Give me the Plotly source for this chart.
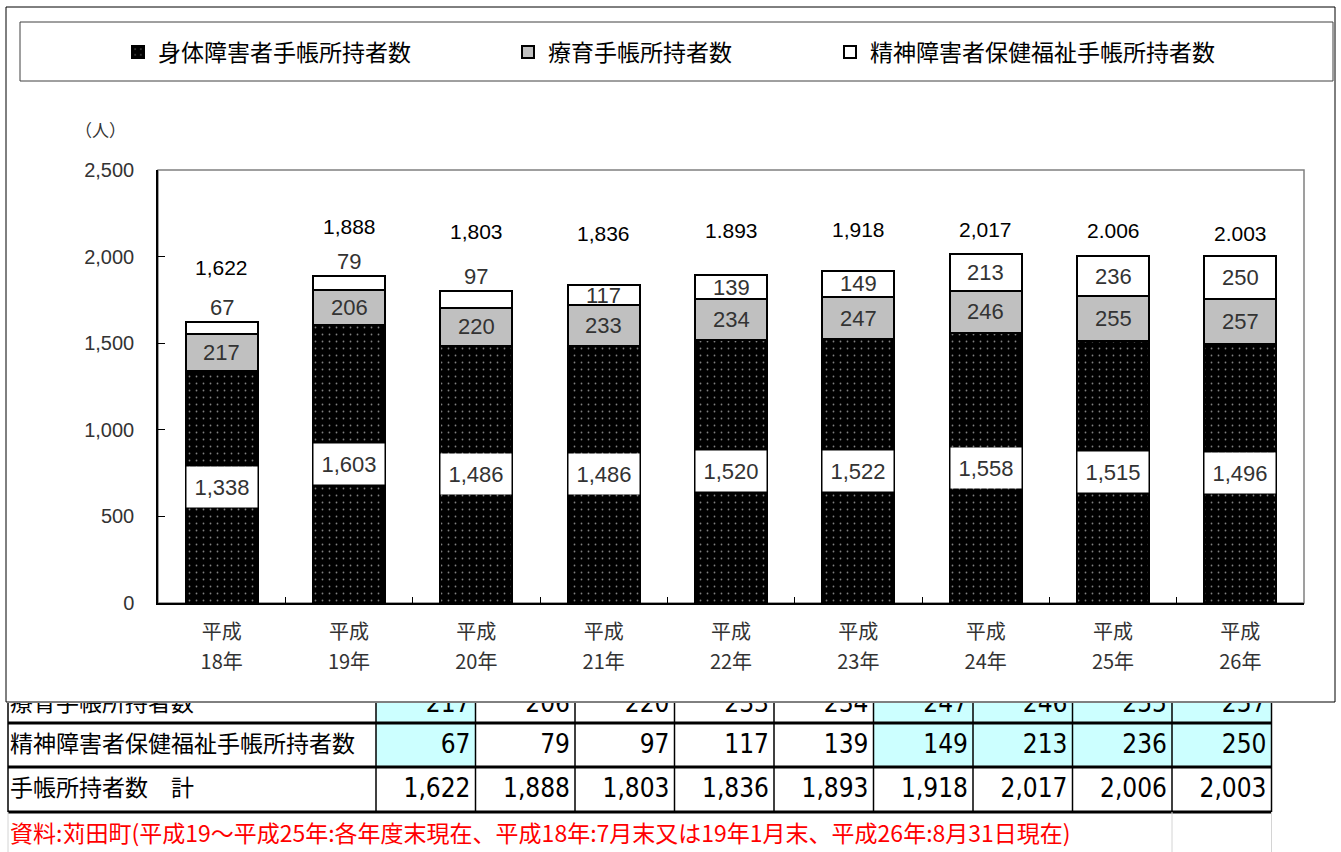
import plotly.graph_objects as go

# ---------------- data ----------------
years = [18, 19, 20, 21, 22, 23, 24, 25, 26]
era_label = "平成"
categories = [f"{era_label}{y}年" for y in years]
year_labels = [f"{y}年" for y in years]
shintai = [1338, 1603, 1486, 1486, 1520, 1522, 1558, 1515, 1496]
ryoiku = [217, 206, 220, 233, 234, 247, 246, 255, 257]
seishin = [67, 79, 97, 117, 139, 149, 213, 236, 250]
total_labels = ["1,622", "1,888", "1,803", "1,836", "1.893", "1,918", "2,017", "2.006", "2.003"]
series_names = ["身体障害者手帳所持者数", "療育手帳所持者数", "精神障害者保健福祉手帳所持者数"]
y_ticks = [0, 500, 1000, 1500, 2000, 2500]
table_row_labels = ["療育手帳所持者数", "精神障害者保健福祉手帳所持者数", "手帳所持者数\u3000計"]
source_text = "資料:苅田町(平成19～平成25年:各年度末現在、平成18年:7月末又は19年1月末、平成26年:8月31日現在)"
unit_label = "（人）"

totals = [a + b + c for a, b, c in zip(shintai, ryoiku, seishin)]

# ---------------- style / geometry ----------------
W, H = 1341, 852
def px(x):
    return x / W
def py(y):
    return 1 - y / H

NUM_FONT = "Liberation Sans, Arial, Noto Sans CJK JP"
CJK_FONT = "Noto Sans CJK JP, Liberation Sans"
NARROW_FONT = "DejaVu Sans Condensed, Liberation Sans Narrow, Liberation Sans, Noto Sans CJK JP"
total_label_yshift = [55, 50, 59, 52, 45, 41, 24, 25, 23]
highlight_cols = [0, 5, 6, 7, 8]
col_edges = [376 + i * 99.5 for i in range(10)]
row_centers = [705, 746, 790]
h_lines = [679, 723, 767, 812]
cat_range = [-0.5, len(categories) - 0.5]

fig = go.Figure()

bar_line = dict(color="black", width=2)
fig.add_bar(
    x=categories, y=shintai, name=series_names[0], legend="legend",
    marker=dict(color="black", line=bar_line,
                pattern=dict(shape=".", fgcolor="white", bgcolor="black", size=7, solidity=0.05)),
    hoverinfo="skip",
)
fig.add_bar(
    x=categories, y=ryoiku, name=series_names[1], legend="legend2",
    marker=dict(color="#C0C0C0", line=bar_line), hoverinfo="skip",
)
fig.add_bar(
    x=categories, y=seishin, name=series_names[2], legend="legend3",
    marker=dict(color="white", line=bar_line), hoverinfo="skip",
)
# invisible carrier for the second line of the category labels ("18年" ...)
fig.add_trace(go.Scatter(
    x=year_labels, y=[0] * len(year_labels), mode="markers", marker=dict(opacity=0, size=1),
    xaxis="x3", yaxis="y", showlegend=False, hoverinfo="skip",
))

annotations = []
for i, c in enumerate(categories):
    s, r, w, t = shintai[i], ryoiku[i], seishin[i], totals[i]
    annotations.append(dict(x=c, y=s / 2, text=f"{s:,}", showarrow=False, bgcolor="white",
                            width=68, height=38, font=dict(family=NUM_FONT, size=22, color="#333")))
    annotations.append(dict(x=c, y=s + r / 2, text=f"{r:,}", showarrow=False,
                            font=dict(family=NUM_FONT, size=22, color="#333")))
    if w < 100:
        annotations.append(dict(x=c, y=t, yanchor="bottom", text=f"{w:,}", showarrow=False,
                                font=dict(family=NUM_FONT, size=22, color="#333")))
    else:
        annotations.append(dict(x=c, y=s + r + w / 2, text=f"{w:,}", showarrow=False,
                                font=dict(family=NUM_FONT, size=22, color="#333")))
    annotations.append(dict(x=c, y=t, yshift=total_label_yshift[i], text=total_labels[i],
                            showarrow=False, font=dict(family=NUM_FONT, size=21, color="black")))

annotations.append(dict(xref="paper", yref="paper", x=px(100), y=py(130), xanchor="center",
                        yanchor="middle", text=unit_label, showarrow=False,
                        font=dict(family=CJK_FONT, size=17, color="#333")))

shapes = [
    dict(type="rect", xref="paper", yref="paper", x0=px(6), x1=px(1335), y0=py(702), y1=py(7),
         line=dict(color="black", width=1), fillcolor="white", layer="below"),
    dict(type="rect", xref="paper", yref="paper", x0=px(20), x1=px(1333), y0=py(81), y1=py(22),
         line=dict(color="#404040", width=1), layer="below"),
    dict(type="rect", xref="x domain", yref="y domain", x0=0, x1=1, y0=0, y1=1,
         line=dict(color="#808080", width=1.5), layer="below"),
]

# ---- table (behind the chart, bottom part visible) ----
for r in range(2):
    for c in highlight_cols:
        shapes.append(dict(type="rect", xref="x2", yref="y2", x0=col_edges[c], x1=col_edges[c + 1],
                           y0=h_lines[r], y1=h_lines[r + 1], fillcolor="#CCFFFF",
                           line=dict(width=0), layer="below"))
for yl in h_lines:
    shapes.append(dict(type="line", xref="x2", yref="y2", x0=8, x1=col_edges[-1], y0=yl, y1=yl,
                       line=dict(color="black", width=3)))
for xl in [8] + col_edges:
    shapes.append(dict(type="line", xref="x2", yref="y2", x0=xl, x1=xl, y0=h_lines[0], y1=h_lines[-1],
                       line=dict(color="black", width=1.5)))
for xl in [8, col_edges[-2], col_edges[-1]]:
    shapes.append(dict(type="line", xref="x2", yref="y2", x0=xl, x1=xl, y0=h_lines[-1], y1=H,
                       line=dict(color="#D4D4D4", width=1)))

fig.add_trace(go.Scatter(
    x=[10] * 3, y=row_centers, text=table_row_labels, mode="text", textposition="middle right",
    textfont=dict(family=CJK_FONT, size=23, color="black"), xaxis="x2", yaxis="y2",
    showlegend=False, hoverinfo="skip", cliponaxis=True,
))
for row_vals, yc in zip([ryoiku, seishin, totals], row_centers):
    fig.add_trace(go.Scatter(
        x=[e - 5 for e in col_edges[1:]], y=[yc] * len(row_vals), text=[f"{v:,}" for v in row_vals],
        mode="text", textposition="middle left",
        textfont=dict(family=NARROW_FONT, size=26, color="black"), xaxis="x2", yaxis="y2",
        showlegend=False, hoverinfo="skip", cliponaxis=True,
    ))
fig.add_trace(go.Scatter(
    x=[10], y=[836], text=[source_text], mode="text", textposition="middle right",
    textfont=dict(family=CJK_FONT, size=23, color="#FF0000"), xaxis="x2", yaxis="y2",
    showlegend=False, hoverinfo="skip", cliponaxis=False,
))

legend_common = dict(orientation="h", yanchor="middle", xanchor="left", y=py(52),
                     bgcolor="rgba(0,0,0,0)", borderwidth=0,
                     font=dict(family=CJK_FONT, size=23, color="black"))

plot_domain_x = [px(158), px(1304)]
fig.update_layout(
    width=W, height=H, margin=dict(l=0, r=0, t=0, b=0, pad=0, autoexpand=False),
    paper_bgcolor="white", plot_bgcolor="white",
    barmode="stack", bargap=0.435,
    font=dict(family=NUM_FONT, color="#333"),
    showlegend=True,
    legend=dict(legend_common, x=px(118)),
    legend2=dict(legend_common, x=px(508)),
    legend3=dict(legend_common, x=px(830)),
    xaxis=dict(domain=plot_domain_x, type="category", range=cat_range, showline=True,
               linecolor="black", linewidth=1.5, ticks="inside", tickson="boundaries", ticklen=6,
               tickcolor="black", tickmode="array", tickvals=categories,
               ticktext=[era_label] * len(categories),
               tickfont=dict(family=CJK_FONT, size=20, color="#333"), ticklabelstandoff=10,
               showgrid=False, fixedrange=True, anchor="y", automargin=False),
    xaxis3=dict(domain=plot_domain_x, type="category", range=cat_range, overlaying="x",
                anchor="y", side="bottom", showline=False, ticks="", showgrid=False,
                zeroline=False, tickfont=dict(family=CJK_FONT, size=20, color="#333"),
                ticklabelstandoff=45, fixedrange=True, automargin=False),
    yaxis=dict(domain=[py(603), py(170)], range=[0, 2500], tickvals=y_ticks, tickformat=",",
               showline=True, linecolor="black", linewidth=1.5, ticks="inside", ticklen=7,
               tickcolor="black", tickfont=dict(family=NUM_FONT, size=20, color="#333"),
               ticklabelstandoff=18, showgrid=False, zeroline=False, fixedrange=True, anchor="x",
               automargin=False),
    xaxis2=dict(domain=[0, 1], range=[0, W], visible=False, fixedrange=True, anchor="y2"),
    yaxis2=dict(domain=[0, (H - 703) / H], range=[H, 703], visible=False, fixedrange=True, anchor="x2"),
    annotations=annotations,
    shapes=shapes,
)

fig.write_html(
    "out.html",
    config={"displayModeBar": False},
    post_script="document.body.style.margin='0';document.body.style.padding='0';"
                "document.documentElement.style.overflow='hidden';",
)
